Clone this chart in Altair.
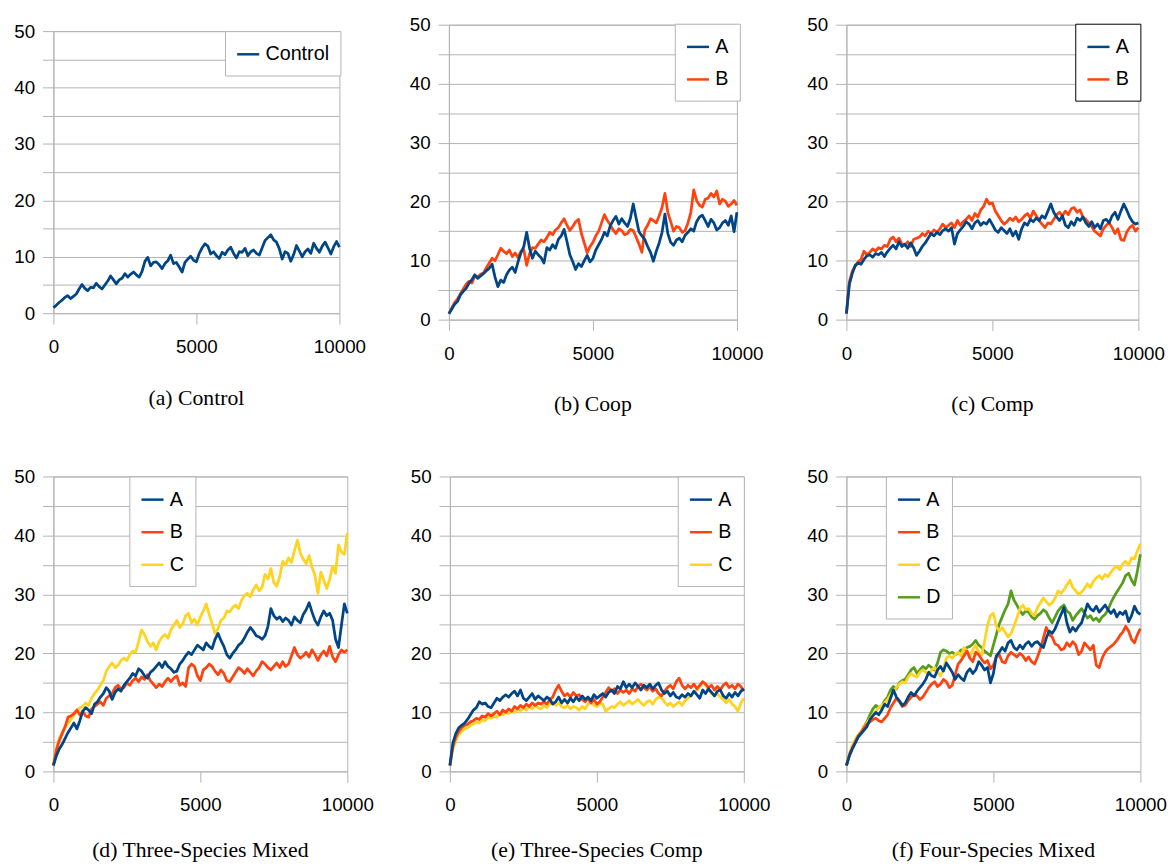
import altair as alt
import pandas as pd

# x positions (generation index), step 100
X = list(range(0, 10001, 100))

CONTROL = [1.0,1.4,1.9,2.3,2.8,3.1,2.6,3.0,3.4,4.3,
 5.1,4.4,4.0,4.6,4.5,5.3,4.7,4.3,5.0,5.7,
 6.6,5.9,5.2,5.9,6.2,7.0,6.4,6.9,7.3,6.8,
 6.4,7.4,9.2,9.9,8.4,9.0,9.1,8.6,7.9,8.8,
 9.3,10.3,8.8,9.0,8.2,7.3,9.0,9.6,10.1,9.4,
 9.1,10.6,11.6,12.3,11.9,10.5,10.9,10.2,9.7,10.8,
 10.4,11.2,11.7,10.6,9.8,10.9,10.8,11.5,10.2,10.9,
 11.2,10.6,10.3,11.6,12.9,13.4,13.9,13.0,12.6,11.4,
 9.6,10.9,10.6,9.2,10.4,12.0,11.0,10.0,10.9,11.4,
 10.6,12.4,11.5,10.8,11.9,12.6,11.6,10.5,11.8,12.7,11.7]

COOP_A = [1.0,1.8,2.6,3.1,4.2,4.8,5.3,6.2,6.8,7.6,
 7.0,7.4,7.8,8.3,8.7,9.4,7.2,5.6,6.7,6.3,
 7.6,8.4,8.9,8.0,9.8,11.3,12.4,14.8,12.1,10.4,
 11.6,11.0,10.5,9.6,12.2,11.8,12.7,12.1,13.6,14.2,
 15.3,13.2,11.0,9.8,8.5,9.5,9.0,10.0,10.9,9.8,
 10.4,11.8,12.7,13.6,14.8,14.2,15.9,16.8,17.5,16.2,
 17.1,16.4,15.8,17.2,19.6,17.2,14.9,14.2,13.6,12.4,
 11.4,9.9,11.6,13.0,14.8,17.9,14.6,13.1,12.6,13.5,
 13.8,13.2,14.3,14.8,15.4,15.0,16.6,17.4,17.7,16.8,
 15.8,17.0,16.4,15.2,15.6,16.4,16.8,16.0,17.6,14.9,18.2]

COOP_B = [1.0,2.0,2.9,3.5,4.4,5.2,6.0,6.5,6.2,7.4,
 7.2,7.7,7.9,8.8,9.6,10.4,10.0,11.0,12.1,11.6,
 11.2,11.8,10.7,11.3,10.5,11.6,11.9,9.2,11.2,12.2,
 12.1,12.8,13.5,13.2,13.9,14.8,14.4,15.2,15.6,16.4,
 17.1,16.0,15.1,15.8,16.6,17.0,14.6,13.0,11.3,12.4,
 13.1,14.2,15.0,16.4,17.8,16.8,16.1,15.2,14.6,15.4,
 15.1,14.4,14.6,15.3,15.1,14.0,12.8,11.4,15.2,16.0,
 17.1,16.8,16.4,17.6,19.0,21.4,18.2,16.6,15.0,15.8,
 15.6,14.8,15.1,16.4,18.2,22.0,20.2,19.4,19.1,20.4,
 20.6,21.4,20.8,21.8,19.6,20.4,20.1,19.2,19.6,20.2,19.4]

COMP_A = [1.0,6.0,7.8,9.2,9.6,9.4,10.2,10.8,11.0,10.6,
 11.2,11.0,11.4,10.7,11.5,12.1,12.6,12.0,13.2,12.4,
 12.8,12.1,13.0,12.2,10.9,11.6,12.4,13.0,13.8,14.6,
 14.2,14.8,14.4,15.1,15.4,15.0,15.6,12.8,14.6,15.2,
 15.8,16.6,16.2,15.4,16.4,16.8,16.0,16.5,16.2,17.0,
 16.1,15.2,14.8,15.6,15.1,14.6,15.4,14.2,15.0,13.6,
 15.4,16.4,16.0,17.0,16.6,17.2,16.8,17.6,17.2,18.4,
 19.6,18.2,17.4,16.8,17.6,16.0,15.6,16.6,16.0,17.2,
 16.8,17.4,16.4,15.8,16.6,15.6,16.2,15.4,16.8,17.0,
 16.4,17.6,18.2,17.0,18.4,19.6,18.6,17.4,16.6,16.2,16.4]

COMP_B = [1.0,6.4,8.2,9.0,9.8,10.2,11.6,11.0,11.4,12.0,
 11.6,12.2,12.0,12.6,12.4,13.6,14.0,13.2,13.8,12.8,
 12.6,13.2,12.4,13.6,13.8,14.0,14.6,14.2,15.0,14.6,
 15.2,14.8,15.4,16.2,15.6,16.0,16.4,15.6,16.8,16.0,
 16.6,17.0,17.6,16.8,18.0,17.4,18.6,19.2,20.4,19.6,
 19.8,18.4,17.6,16.8,16.2,16.6,17.2,16.8,17.4,16.6,
 17.0,17.6,18.0,17.2,18.4,17.6,16.8,16.2,15.6,16.4,
 16.2,17.0,17.8,18.2,17.6,18.4,17.8,18.8,19.0,18.2,
 18.6,17.4,17.0,16.4,15.8,15.0,14.6,14.2,15.4,16.0,
 16.4,15.6,14.6,15.4,13.6,13.4,14.8,15.6,16.0,15.0,15.6]

TSM_A = [1.0,2.6,3.8,4.6,5.6,6.6,7.4,8.2,7.2,8.6,
 10.2,10.8,10.4,9.8,11.4,11.8,12.6,13.2,14.2,13.6,
 12.2,13.4,14.0,13.6,14.6,15.2,15.8,16.6,16.2,17.4,
 17.0,16.2,15.8,16.8,17.2,17.8,18.4,17.6,18.6,17.8,
 17.4,16.8,17.0,18.2,18.8,19.6,20.2,19.8,20.6,21.4,
 21.0,20.6,21.8,21.2,20.8,22.4,23.4,22.2,21.2,19.8,
 19.2,20.0,20.6,21.4,21.8,22.6,23.6,24.4,23.8,23.0,
 22.8,22.4,23.0,24.6,27.6,26.4,25.8,26.2,25.4,26.0,
 25.6,24.8,26.2,25.6,25.2,26.6,27.4,28.6,27.0,25.6,
 24.8,26.2,27.2,26.4,26.8,25.6,22.4,21.0,24.8,28.4,26.8]

TSM_B = [1.0,3.6,5.2,6.4,7.6,9.2,9.4,9.8,10.4,9.6,
 10.2,9.4,9.2,10.6,11.0,11.4,11.8,11.2,12.4,12.8,
 13.2,14.2,14.6,14.0,14.2,15.0,14.6,15.4,15.8,15.2,
 16.0,15.6,16.4,15.4,14.8,14.2,14.8,14.4,15.2,15.8,
 15.2,15.8,16.2,14.6,15.0,14.4,17.6,18.2,17.8,16.2,
 15.4,17.2,17.6,18.2,17.8,17.0,16.4,17.2,16.6,15.4,
 15.2,16.0,16.8,17.6,17.2,16.6,17.4,16.8,16.2,17.0,
 17.6,18.6,18.2,17.6,17.2,17.8,18.4,17.6,18.6,17.8,
 18.2,19.6,21.0,19.8,19.2,19.6,20.2,19.4,20.6,19.8,
 18.8,19.8,20.4,19.6,21.2,19.4,18.6,19.8,20.6,20.2,20.6]

TSM_C = [1.0,3.8,5.6,6.6,7.4,8.2,8.8,9.6,10.2,10.8,
 11.0,11.6,11.2,12.4,13.2,13.8,14.6,15.4,17.0,17.8,
 18.4,17.6,18.0,18.8,19.2,18.8,19.8,20.4,20.2,22.0,
 24.0,23.2,22.0,21.2,21.8,20.6,22.0,22.8,23.2,22.6,
 24.0,24.8,25.6,24.4,25.0,26.4,26.8,25.2,25.8,24.8,
 26.2,27.2,28.4,26.6,25.0,23.4,24.2,25.6,26.0,27.2,
 27.0,27.8,28.2,27.6,29.0,29.8,30.2,29.6,30.8,31.6,
 30.6,31.2,33.4,32.6,34.4,32.0,31.4,33.0,35.6,35.0,
 36.2,35.4,37.4,39.2,37.0,36.0,35.2,36.6,34.6,33.2,
 30.2,33.8,32.4,31.0,32.6,34.8,33.6,38.4,37.2,36.8,40.4]

TSC_A = [1.0,4.8,6.4,7.4,7.8,8.2,8.8,9.6,10.4,10.8,
 11.8,11.4,11.6,11.0,10.8,11.6,12.4,12.0,12.6,13.0,
 12.6,13.2,13.6,12.8,13.8,12.4,12.0,12.6,13.2,12.2,
 12.8,12.4,12.0,12.6,12.2,11.4,11.8,12.6,11.6,12.2,
 11.6,12.4,11.8,12.6,12.0,12.8,12.2,12.6,12.0,13.0,
 12.4,12.8,13.2,12.6,13.4,13.8,13.2,14.4,14.0,15.2,
 14.2,14.8,14.2,15.0,14.4,13.8,14.6,14.2,14.8,14.0,
 14.6,15.0,13.8,13.2,13.6,12.8,13.4,12.6,12.4,13.0,
 12.6,13.2,12.8,13.6,13.0,12.4,13.8,13.2,14.0,13.4,
 12.8,13.6,13.8,12.8,12.4,13.2,12.6,13.4,12.8,13.6,14.0]

TSC_B = [1.0,4.2,5.8,6.8,7.4,7.8,8.0,8.4,8.6,9.0,
 8.8,9.4,9.2,9.8,9.4,9.8,10.2,9.6,10.4,10.0,
 10.6,10.2,11.0,10.6,11.2,10.8,11.4,11.0,11.6,11.2,
 11.6,11.4,11.8,11.4,12.2,12.6,13.8,14.6,13.6,12.8,
 13.2,12.6,13.4,12.8,13.0,12.2,11.8,12.4,11.6,12.2,
 11.4,11.8,12.6,13.4,14.2,13.6,14.0,13.2,13.8,13.4,
 13.8,13.2,14.0,13.6,14.4,14.8,14.2,13.8,14.4,13.6,
 14.0,13.2,12.8,13.6,14.2,14.6,14.0,15.2,15.8,14.6,
 14.0,14.6,14.2,14.8,14.0,14.6,15.2,14.8,14.2,14.6,
 13.8,14.4,13.8,14.6,15.0,14.2,14.6,14.0,14.8,14.4,13.6]

TSC_C = [1.0,3.8,5.2,6.2,6.8,7.2,7.4,7.8,8.0,8.4,
 8.2,8.8,8.6,9.2,9.0,9.4,9.2,9.8,9.6,10.0,
 9.8,10.2,10.0,10.6,10.2,10.8,10.4,11.0,10.6,11.2,
 10.8,10.6,11.2,10.8,11.4,11.8,11.2,11.6,11.0,10.8,
 11.2,10.6,11.0,10.8,10.4,11.0,10.6,11.4,11.8,11.2,
 11.0,11.6,11.4,10.2,10.6,11.0,10.8,11.4,11.8,11.2,
 11.6,12.0,11.4,11.8,12.2,11.6,11.2,11.8,12.0,11.4,
 12.2,12.6,12.4,11.8,11.2,11.6,11.0,11.4,11.8,11.2,
 12.0,12.4,12.8,13.4,13.8,14.4,15.2,14.6,13.8,13.2,
 12.8,13.2,12.6,12.2,11.6,12.2,11.4,11.0,10.2,11.6,12.4]

FSM_A = [1.0,2.6,3.8,4.8,5.8,6.4,7.0,7.6,8.8,9.4,
 10.0,9.6,10.4,11.4,11.0,12.4,13.8,12.6,12.0,11.2,
 11.6,12.6,13.4,12.8,13.6,14.2,14.8,15.6,16.8,16.2,
 16.0,17.2,17.8,17.0,18.4,17.6,16.8,15.6,16.4,15.8,
 15.4,16.8,17.4,16.6,17.2,18.6,18.0,17.2,17.6,15.0,
 16.6,19.6,20.2,21.0,20.4,21.8,22.2,21.0,20.6,21.4,
 20.8,21.6,22.0,21.2,21.8,22.0,21.4,21.0,22.6,23.8,
 23.4,24.2,25.4,26.6,27.8,25.2,23.6,24.4,23.8,24.6,
 25.2,26.8,28.4,27.6,27.2,28.0,27.0,27.6,28.2,27.4,
 26.8,27.4,26.2,27.0,26.6,27.2,25.4,26.4,28.0,27.0,26.6]

FSM_B = [1.0,2.8,4.0,5.0,6.0,6.6,7.4,8.0,8.4,8.8,
 9.0,8.6,8.4,9.0,9.6,10.8,11.6,12.4,11.8,11.0,
 11.2,12.0,12.6,13.0,12.8,12.2,12.6,13.4,14.2,14.8,
 15.2,14.4,14.8,15.6,15.2,14.2,14.6,16.4,18.2,18.8,
 19.6,20.4,19.2,18.6,20.2,19.8,19.0,18.4,18.8,17.4,
 18.0,19.4,19.8,18.6,18.4,19.6,20.2,19.8,19.4,20.0,
 19.6,18.8,19.4,18.6,18.2,19.4,20.8,22.6,24.4,23.2,
 22.8,21.6,21.4,20.6,20.8,21.8,21.2,22.0,21.4,19.8,
 20.4,21.8,21.2,20.6,21.4,18.0,17.6,19.2,20.2,20.8,
 21.2,21.6,22.2,23.0,23.6,24.6,23.8,22.4,21.8,23.2,24.2]

FSM_C = [1.0,3.0,4.4,5.4,6.2,6.8,7.6,8.2,9.0,9.6,
 10.2,10.8,11.2,11.6,12.2,13.0,13.6,14.2,14.8,15.2,
 15.0,16.0,16.6,16.2,16.0,16.8,17.2,16.8,16.4,17.2,
 17.6,16.8,16.2,17.4,19.2,19.6,19.2,19.8,20.2,19.6,
 21.0,20.4,19.4,20.6,21.4,20.2,19.8,22.0,24.8,26.4,
 26.8,24.6,23.8,24.4,23.6,22.8,23.4,24.6,26.0,27.6,
 28.2,27.4,27.6,26.8,26.4,27.8,28.6,29.4,28.8,28.2,
 28.6,29.4,30.6,30.2,30.8,31.6,32.4,31.2,30.6,30.0,
 30.4,31.0,31.8,31.2,32.2,32.8,33.2,32.6,33.4,33.0,
 33.8,34.4,34.8,34.2,35.2,35.6,35.0,36.2,36.0,37.4,38.6]

FSM_D = [1.0,2.8,4.0,5.0,6.0,6.6,7.6,8.4,9.6,10.6,
 11.2,10.8,11.0,12.0,12.6,13.8,14.4,14.0,15.0,15.4,
 15.6,16.4,17.2,17.6,16.6,17.2,17.8,17.4,18.0,17.6,
 17.2,18.4,20.2,20.6,20.4,20.0,20.2,19.8,20.0,20.6,
 20.6,21.0,21.2,21.6,22.2,21.4,21.0,20.4,20.0,19.6,
 21.4,23.2,25.0,26.2,27.4,28.4,30.6,29.0,28.2,27.2,
 26.6,27.2,27.0,26.2,25.8,26.4,26.8,27.4,27.0,26.0,
 25.2,26.2,27.2,27.8,28.2,27.2,26.8,25.6,26.4,27.0,
 27.6,26.8,26.0,26.4,25.6,26.0,25.4,26.2,26.6,27.4,
 28.6,29.6,30.4,31.2,32.0,33.2,33.6,32.4,31.6,34.0,36.8]

BLUE, ORANGE, YELLOW, GREEN = "#004586", "#ff420e", "#ffd320", "#579d1c"
GRID = "#b3b3b3"
Y_TICKS = [0, 5, 10, 15, 20, 25, 30, 35, 40, 45, 50]
X_TICKS = [0, 5000, 10000]
SANS = "Liberation Sans"


def panel(series, colors, caption, lx, ly, box_stroke, w, h, cap_offset):
    names = list(series.keys())
    xs, vs, ss = [], [], []
    for n in names:
        xs += X
        vs += series[n]
        ss += [n] * len(X)
    df = pd.DataFrame({"x": xs, "v": vs, "s": ss})
    base = alt.Chart(df)
    color = alt.Color(
        "s:N",
        scale=alt.Scale(domain=names, range=colors),
        legend=alt.Legend(
            title=None, orient="none", legendX=lx, legendY=ly,
            fillColor="white", strokeColor=box_stroke, padding=11,
            symbolType="stroke", symbolSize=500, symbolStrokeWidth=2.5,
            labelFont=SANS, labelFontSize=20, labelColor="black",
            labelOffset=5, rowPadding=10, cornerRadius=0,
        ),
    )
    xenc = alt.X("x:Q", scale=alt.Scale(domain=[0, 10000], nice=False),
                 axis=alt.Axis(values=X_TICKS, grid=False, domain=False, tickSize=11,
                               tickColor=GRID, labelFont=SANS, labelFontSize=19,
                               labelColor="black", labelFlush=False, title=None,
                               labelPadding=14, format="d"))
    yenc = alt.Y("v:Q", scale=alt.Scale(domain=[0, 50], nice=False),
                 axis=alt.Axis(values=Y_TICKS, grid=True, gridColor=GRID, domain=True,
                               domainColor=GRID, tickSize=11, tickColor=GRID,
                               labelFont=SANS, labelFontSize=19, labelColor="black",
                               title=None, labelPadding=8,
                               labelExpr="datum.value % 10 === 0 ? datum.label : ''"))
    layers = []
    for n in reversed(names):
        layers.append(
            base.transform_filter(alt.datum.s == n)
            .mark_line(strokeWidth=2.8, strokeJoin="round")
            .encode(x=xenc, y=yenc, color=color)
        )
    return alt.layer(*layers).properties(
        width=w, height=h,
        title=alt.TitleParams(caption, orient="bottom", font="Liberation Serif",
                              fontSize=22, fontWeight="normal", color="black",
                              offset=cap_offset),
    )


a = panel({"Control": CONTROL}, [BLUE], "(a) Control", 174, 0, GRID, 290, 286, 32)
b = panel({"A": COOP_A, "B": COOP_B}, [BLUE, ORANGE], "(b) Coop", 229, -1, GRID, 292, 299, 32)
c = panel({"A": COMP_A, "B": COMP_B}, [BLUE, ORANGE], "(c) Comp", 232, -1, "black", 296, 299, 32)
d = panel({"A": TSM_A, "B": TSM_B, "C": TSM_C}, [BLUE, ORANGE, YELLOW],
          "(d) Three-Species Mixed", 77, 0, GRID, 298, 299, 26)
e = panel({"A": TSC_A, "B": TSC_B, "C": TSC_C}, [BLUE, ORANGE, YELLOW],
          "(e) Three-Species Comp", 231, 0, GRID, 298, 299, 26)
f = panel({"A": FSM_A, "B": FSM_B, "C": FSM_C, "D": FSM_D}, [BLUE, ORANGE, YELLOW, GREEN],
          "(f) Four-Species Mixed", 40, 0, GRID, 298, 299, 26)

row1 = alt.hconcat(a, b, c, spacing=111, bounds="flush", center=True).resolve_scale(color="independent")
row2 = alt.hconcat(d, e, f, spacing=104, bounds="flush").resolve_scale(color="independent")

chart = (
    alt.vconcat(row1, row2, spacing=51)
    .resolve_scale(color="independent")
    .properties(padding={"left": 5, "right": 0, "top": 1, "bottom": 0}, background="white")
    .configure_view(stroke=GRID, strokeWidth=1)
)

chart.save("out.html", embed_options={"renderer": "svg", "actions": False})
